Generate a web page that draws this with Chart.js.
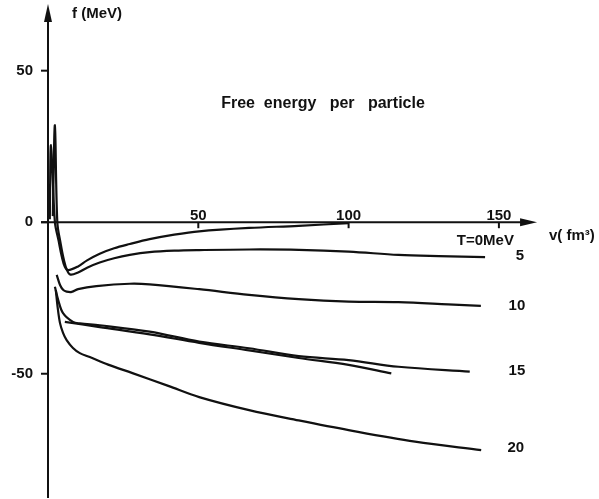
<!DOCTYPE html>
<html>
<head>
<meta charset="utf-8">
<script src="https://cdn.jsdelivr.net/npm/chart.js@4.4.1/dist/chart.umd.min.js"></script>
<style>
  body { margin: 0; background: #fff; }
  canvas { display: block; }
</style>
</head>
<body>
<canvas id="myChart" width="599" height="499"></canvas>
<script>
// volume per particle v (fm^3) and free energy f (MeV)
const vT0 = [0.6, 1.0, 2.3, 3.5, 4.6, 5.6, 6.7, 10, 13, 17.2, 22, 27.2, 33.8, 42, 50.3, 66.9, 83.4, 100];
const fT0 = [1, 25.4, 0, -6, -11.4, -14.7, -15.8, -14.6, -12.6, -10.4, -8.6, -7.2, -5.6, -4.1, -3.0, -1.9, -1.2, -0.3];

const vT5 = [1.6, 2.3, 3.1, 4.2, 5.3, 6.3, 7.5, 10, 13, 17.2, 22, 27.2, 33.8, 42, 50.3, 66.9, 83.4, 100, 116.6, 130, 145.4];
const fT5 = [2, 32, 0, -7, -12.5, -15.8, -17.3, -16.6, -15.0, -13.3, -11.9, -10.8, -9.9, -9.4, -9.2, -9.0, -9.1, -9.7, -10.8, -11.2, -11.5];

const vT10 = [2.9, 4.0, 5.1, 6.2, 7.9, 10, 16.1, 27.2, 33.8, 50.3, 66.9, 83.4, 100, 116.6, 133.1, 144];
const fT10 = [-17.4, -20.7, -22.4, -22.9, -23.0, -22.1, -21.1, -20.3, -20.5, -22.1, -24.0, -25.4, -26.2, -26.4, -27.1, -27.6];

const vT15 = [2.3, 3.4, 5.0, 8.3, 10.6, 17.2, 33.8, 50.3, 66.9, 83.4, 100, 116.6, 140.3];
const fT15 = [-21.3, -25.7, -30, -32.9, -33.4, -34.0, -36.1, -39.4, -41.6, -44.2, -45.5, -47.7, -49.3];

// the shorter line lying along the T=15 curve
const vLine15 = [5.6, 17.2, 33.8, 50.3, 66.9, 83.4, 100, 114.2];
const fLine15 = [-32.9, -34.6, -37.0, -39.8, -42.3, -44.8, -47.1, -49.9];

const vT20 = [2.6, 3.2, 4.0, 5.0, 6.2, 8.3, 10.6, 13.9, 20, 28.1, 40, 50.3, 66.9, 83.4, 100, 122.1, 144.1];
const fT20 = [-22.4, -28, -33.3, -36.5, -38.9, -41.5, -43.2, -44.5, -47.0, -49.8, -54, -57.7, -62, -65.4, -68.6, -72.4, -75.2];

const xTicks = [50, 100, 150];
const yTicks = [50, 0, -50];
const curveNames = ['T=0MeV', '5', '10', '15', '20'];

function toPoints(xs, ys) {
    return xs.map((x, i) => ({ x: x, y: ys[i] }));
}

function curve(label, xs, ys) {
    return {
        label: label,
        data: toPoints(xs, ys),
        showLine: true,
        borderColor: '#111',
        borderWidth: 2.2,
        pointRadius: 0,
        tension: 0.35,
        clip: false
    };
}

const FONT = '"Liberation Sans", Arial, sans-serif';

// axes with arrows, ticks and all the lettering
const axesPlugin = {
    id: 'axes',
    afterDraw(chart) {
        const ctx = chart.ctx;
        const xs = chart.scales.x;
        const ys = chart.scales.y;
        const x0 = xs.getPixelForValue(0);
        const y0 = ys.getPixelForValue(0);

        ctx.save();
        ctx.strokeStyle = '#111';
        ctx.fillStyle = '#111';
        ctx.lineWidth = 2;

        // y axis
        const yTop = ys.getPixelForValue(72);
        ctx.beginPath();
        ctx.moveTo(x0, ys.getPixelForValue(-91));
        ctx.lineTo(x0, yTop + 10);
        ctx.stroke();
        ctx.beginPath();
        ctx.moveTo(x0, yTop);
        ctx.lineTo(x0 - 4, yTop + 18);
        ctx.lineTo(x0 + 4, yTop + 18);
        ctx.closePath();
        ctx.fill();

        // x axis
        const xEnd = xs.getPixelForValue(162.7);
        ctx.beginPath();
        ctx.moveTo(x0 - 7, y0);
        ctx.lineTo(xEnd - 8, y0);
        ctx.stroke();
        ctx.beginPath();
        ctx.moveTo(xEnd, y0);
        ctx.lineTo(xEnd - 17, y0 - 4);
        ctx.lineTo(xEnd - 17, y0 + 4);
        ctx.closePath();
        ctx.fill();

        ctx.font = 'bold 15px ' + FONT;
        ctx.textBaseline = 'middle';

        // y ticks
        ctx.textAlign = 'right';
        yTicks.forEach(t => {
            const py = ys.getPixelForValue(t);
            ctx.beginPath();
            ctx.moveTo(x0 - 7, py);
            ctx.lineTo(x0, py);
            ctx.stroke();
            ctx.fillText(String(t), x0 - 15, py);
        });

        // x ticks, labels sit above the axis
        ctx.textAlign = 'center';
        ctx.textBaseline = 'alphabetic';
        xTicks.forEach(t => {
            const px = xs.getPixelForValue(t);
            ctx.beginPath();
            ctx.moveTo(px, y0);
            ctx.lineTo(px, y0 + 6);
            ctx.stroke();
            ctx.fillText(String(t), px, y0 - 2);
        });

        // axis titles and heading
        ctx.textAlign = 'left';
        ctx.textBaseline = 'middle';
        ctx.fillText('f (MeV)', 72, 14);
        ctx.fillText('v( fm³)', 549, 236);

        // curve labels, placed in data units
        const spots = [[145.5, -6.3], [157, -11.2], [156, -27.7], [156, -49.2], [155.6, -74.3]];
        ctx.textAlign = 'center';
        curveNames.forEach((name, i) => {
            ctx.fillText(name, xs.getPixelForValue(spots[i][0]), ys.getPixelForValue(spots[i][1]));
        });

        ctx.font = 'bold 16px ' + FONT;
        ctx.fillText('Free  energy   per   particle', 323, 104);

        ctx.restore();
    }
};

const ctx = document.getElementById('myChart').getContext('2d');
new Chart(ctx, {
    type: 'scatter',
    data: {
        datasets: [
            curve('T=0', vT0, fT0),
            curve('T=5', vT5, fT5),
            curve('T=10', vT10, fT10),
            curve('T=15', vT15, fT15),
            curve('T=15 line', vLine15, fLine15),
            curve('T=20', vT20, fT20)
        ]
    },
    options: {
        responsive: false,
        animation: false,
        layout: { padding: { left: 48, right: 55, top: 4, bottom: 1 } },
        plugins: {
            legend: { display: false },
            tooltip: { enabled: false }
        },
        scales: {
            x: { type: 'linear', min: 0, max: 165, display: false },
            y: { type: 'linear', min: -91, max: 72, display: false }
        }
    },
    plugins: [axesPlugin]
});
</script>
</body>
</html>
